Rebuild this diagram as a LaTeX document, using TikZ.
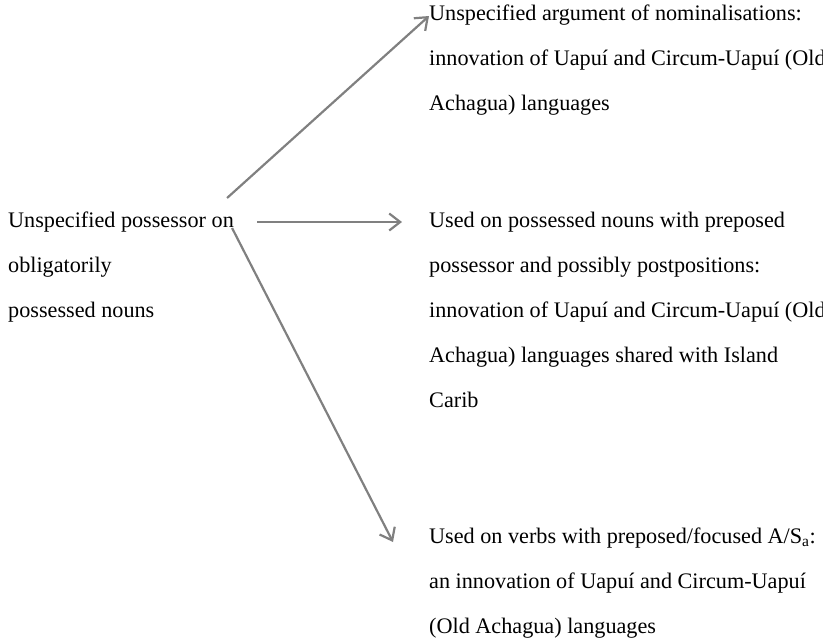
\documentclass[tikz,border=0pt]{standalone}
\usepackage{fontspec}
\setmainfont{Liberation Serif}
\usepackage{xcolor}
\usetikzlibrary{arrows.meta}

\begin{document}
\begin{tikzpicture}[x=1pt, y=-1pt]
% Define styles
\tikzstyle{txt} = [anchor=north west, inner sep=0pt, align=left, font=\fontsize{22.2}{45}\selectfont]
\tikzstyle{arrow} = [draw=gray, line width=2.2pt, -{Straight Barb[length=11pt, width=17pt]}]

\useasboundingbox (0,0) rectangle (823,641);
\clip (0,0) rectangle (823,641);

% Nodes
\node (poss) [txt] at (8,212) {Unspecified possessor on\\obligatorily\\possessed nouns};
\node (nomin) [txt] at (429,5) {Unspecified argument of nominalisations:\\innovation of Uapuí and Circum-Uapuí (Old\\Achagua) languages};
\node (nouns) [txt] at (429,212) {Used on possessed nouns with preposed\\possessor and possibly postpositions:\\innovation of Uapuí and Circum-Uapuí (Old\\Achagua) languages shared with Island\\Carib};
\node (verbs) [txt] at (429,528) {Used on verbs with preposed/focused A/S\textsubscript{a}:\\an innovation of Uapuí and Circum-Uapuí\\(Old Achagua) languages};

% Connections
\draw [arrow] ([shift={(-7,-14)}]poss.north east) -- ([shift={(0,11)}]nomin.north west);
\draw [arrow] ([shift={(23,10)}]poss.north east) -- ([shift={(-27,10)}]nouns.north west);
\draw [arrow] ([shift={(-2,16)}]poss.north east) -- ([shift={(-36,14)}]verbs.north west);

\end{tikzpicture}
\end{document}
